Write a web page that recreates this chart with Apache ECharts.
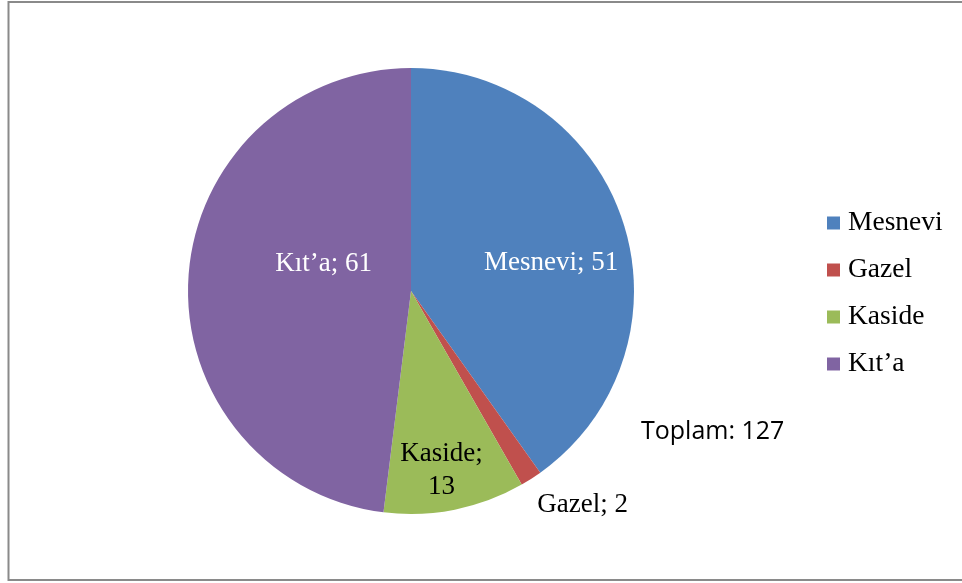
<!DOCTYPE html>
<html>
<head>
<meta charset="utf-8">
<script src="https://cdn.jsdelivr.net/npm/echarts@6/dist/echarts.min.js"></script>
<style>
html,body{margin:0;padding:0;background:#fff;}
#chart{width:962px;height:583px;}
</style>
</head>
<body>
<div id="chart"></div>
<script>
// Data
const categories = ['Mesnevi', 'Gazel', 'Kaside', 'Kıt’a'];
const values = [51, 2, 13, 61];
const totalText = 'Toplam: 127';

// Styles (not data)
const colors = ['#4F81BD', '#C0504D', '#9BBB59', '#8064A2'];
const labelColors = ['#ffffff', '#000000', '#000000', '#ffffff'];
const labelShift = [[31, 7], [110, 117], [8, 67], [27, -20]];

const chart = echarts.init(document.getElementById('chart'), null, {renderer: 'canvas'});

const pieData = categories.map((name, i) => ({
  name: name,
  value: values[i],
  itemStyle: {color: colors[i]},
  label: {
    color: labelColors[i],
    formatter: name === 'Kaside' ? '{b};\n{c}' : '{b}; {c}'
  }
}));

chart.setOption({
  animation: false,
  backgroundColor: '#ffffff',
  title: {
    text: totalText,
    left: 641,
    top: 417,
    padding: 0,
    textStyle: {fontFamily: 'Open Sans', fontWeight: 'normal', fontSize: 25, lineHeight: 30, color: '#000'}
  },
  legend: {
    orient: 'vertical',
    left: 827,
    top: 209,
    padding: 0,
    itemWidth: 13,
    itemHeight: 13,
    itemGap: 19,
    icon: 'rect',
    data: categories,
    textStyle: {fontFamily: 'Liberation Serif', fontSize: 27.5, color: '#000', lineHeight: 27, padding: [0, 0, 0, 3]}
  },
  graphic: [{
    type: 'rect',
    shape: {x: 8.5, y: 2, width: 1000, height: 578},
    style: {fill: 'none', stroke: '#8a8a8a', lineWidth: 2},
    silent: true
  }],
  series: [{
    type: 'pie',
    center: [411, 291],
    radius: [0, 223],
    startAngle: 90,
    clockwise: true,
    avoidLabelOverlap: false,
    itemStyle: {borderWidth: 0},
    label: {
      show: true,
      position: 'inside',
      fontFamily: 'Liberation Serif',
      fontSize: 27,
      lineHeight: 33,
      align: 'center'
    },
    labelLine: {show: false},
    labelLayout: function (params) {
      const s = labelShift[params.dataIndex];
      return {dx: s[0], dy: s[1]};
    },
    emphasis: {disabled: true},
    data: pieData
  }]
});
</script>
</body>
</html>
